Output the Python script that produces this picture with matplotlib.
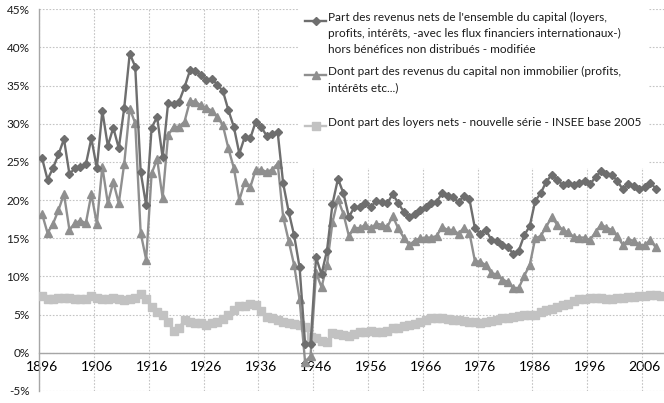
import matplotlib
matplotlib.use('Agg')
import matplotlib.pyplot as plt
from matplotlib.patches import Rectangle
from matplotlib.lines import Line2D

plt.rcParams['font.family'] = ['Lato', 'DejaVu Sans']

# -----------------
# Data
# -----------------

years = list(range(1896, 2010))

capital_total = [
    25.5, 22.7, 24.2, 26.0, 28.0, 23.4, 24.2, 24.4, 24.7, 28.1,
    24.2, 31.7, 27.1, 29.5, 26.8, 32.1, 39.2, 37.5, 23.7, 19.3,
    29.5, 30.9, 25.6, 32.7, 32.6, 32.9, 34.8, 37.0, 36.9, 36.4,
    35.8, 35.9, 35.1, 34.3, 31.8, 29.6, 26.1, 28.3, 28.1, 30.3,
    29.6, 28.4, 28.7, 28.9, 22.2, 18.5, 15.4, 11.2, 1.2, 1.2,
    12.5, 10.3, 13.4, 19.5, 22.8, 20.9, 17.8, 19.1, 19.1, 19.6,
    19.1, 19.9, 19.7, 19.6, 20.8, 19.6, 18.5, 17.8, 18.2, 18.7,
    19.1, 19.6, 19.8, 20.9, 20.5, 20.4, 19.7, 20.6, 20.1, 16.3,
    15.6, 16.1, 14.8, 14.7, 14.1, 13.9, 12.9, 13.4, 15.4, 16.6,
    19.9, 20.9, 22.4, 23.3, 22.7, 22.0, 22.2, 22.0, 22.3, 22.5,
    22.1, 23.0, 23.8, 23.4, 23.3, 22.5, 21.4, 22.1, 21.8, 21.4,
    21.7, 22.3, 21.5,
]

capital_non_immo = [
    18.2, 15.7, 16.9, 18.7, 20.8, 16.1, 17.0, 17.3, 17.0, 20.8,
    16.9, 24.4, 19.6, 22.4, 19.6, 24.8, 32.0, 30.1, 15.7, 12.2,
    23.5, 25.4, 20.3, 28.5, 29.6, 29.6, 30.3, 33.0, 32.9, 32.4,
    32.1, 31.7, 30.9, 29.8, 26.8, 24.2, 20.0, 22.4, 21.7, 24.0,
    24.0, 23.7, 24.0, 24.8, 17.8, 14.7, 11.5, 7.0, -1.2, -0.4,
    10.5, 8.6, 11.5, 17.1, 20.1, 18.2, 15.3, 16.4, 16.3, 16.8,
    16.3, 16.9, 16.8, 16.5, 17.9, 16.3, 15.1, 14.1, 14.7, 15.0,
    15.1, 15.1, 15.3, 16.5, 16.1, 16.1, 15.6, 16.4, 15.7, 12.0,
    11.9, 11.5, 10.4, 10.3, 9.6, 9.3, 8.5, 8.5, 10.1, 11.5,
    15.0, 15.3, 16.5, 17.8, 16.8, 16.1, 15.8, 15.2, 15.1, 15.1,
    14.8, 15.8, 16.8, 16.4, 16.1, 15.3, 14.1, 14.8, 14.7, 14.1,
    14.1, 14.8, 13.8,
]

loyers_nets = [
    7.4, 7.0, 7.1, 7.2, 7.2, 7.2, 7.1, 7.0, 7.1, 7.4,
    7.2, 7.0, 7.1, 7.2, 7.0, 6.9, 7.1, 7.2, 7.7, 7.0,
    6.0, 5.4, 4.9, 4.1, 2.8, 3.3, 4.3, 4.0, 3.9, 3.9,
    3.7, 3.9, 4.0, 4.4, 5.0, 5.6, 6.1, 6.1, 6.4, 6.2,
    5.5, 4.7, 4.5, 4.3, 4.0, 3.9, 3.8, 3.6, 3.4, 2.1,
    1.9, 1.6, 1.4, 2.6, 2.5, 2.3, 2.2, 2.5, 2.7, 2.7,
    2.9, 2.7, 2.7, 2.9, 3.2, 3.3, 3.5, 3.6, 3.8, 4.0,
    4.3, 4.5, 4.6, 4.6, 4.4, 4.3, 4.3, 4.2, 4.1, 4.0,
    3.9, 4.0, 4.2, 4.3, 4.5, 4.6, 4.7, 4.8, 4.9, 5.0,
    4.9, 5.3, 5.6, 5.8, 6.0, 6.2, 6.4, 6.8, 7.0, 7.1,
    7.2, 7.2, 7.2, 7.0, 7.1, 7.2, 7.2, 7.3, 7.3, 7.4,
    7.4, 7.6, 7.6, 7.4,
]

label_years = [1896, 1906, 1916, 1926, 1936, 1946, 1956, 1966, 1976, 1986, 1996, 2006]
y_ticks = [-5, 0, 5, 10, 15, 20, 25, 30, 35, 40, 45]

legend_labels = [
    "Part des revenus nets de l'ensemble du capital (loyers,\n"
    "profits, intérêts, -avec les flux financiers internationaux-)\n"
    "hors bénéfices non distribués - modifiée",
    "Dont part des revenus du capital non immobilier (profits,\n"
    "intérêts etc...)",
    "Dont part des loyers nets - nouvelle série - INSEE base 2005",
]

c_total = '#6e6e6e'
c_immo = '#8f8f8f'
c_loyer = '#c2c2c2'

# -----------------
# Plot
# -----------------

fig = plt.figure(figsize=(6.64, 4.03), dpi=100)
ax = fig.add_axes([0.0592, 0.0298, 0.9408, 0.9471])

ax.plot(years, loyers_nets, color=c_loyer, lw=1.7, marker='s', ms=5.4,
        mec=c_loyer, mfc=c_loyer, zorder=3)
ax.plot(years[:len(capital_non_immo)], capital_non_immo, color=c_immo, lw=1.7,
        marker='^', ms=5.2, mec=c_immo, mfc=c_immo, zorder=4)
ax.plot(years[:len(capital_total)], capital_total, color=c_total, lw=1.7,
        marker='D', ms=4.0, mec=c_total, mfc=c_total, zorder=5)

ax.set_xlim(1895.5, 2009.5)
ax.set_ylim(-5, 45)

ax.set_xticks(label_years)
ax.set_xticks([y - 0.5 for y in label_years], minor=True)
ax.set_xticklabels([str(y) for y in label_years], fontsize=10.5, color='#1a1a1a')
ax.set_yticks(y_ticks)
ax.set_yticklabels([f'{v}%' for v in y_ticks], fontsize=8.5, color='#1a1a1a')
ax.tick_params(axis='x', which='both', length=0, pad=6)
ax.tick_params(axis='y', length=0, pad=7)

ax.grid(axis='x', which='minor', color='#c4c4c4', lw=0.8, ls=(0, (1.5, 1.5)))
ax.grid(axis='y', which='major', color='#c4c4c4', lw=0.8, ls=(0, (1.5, 1.5)))
ax.set_axisbelow(True)

for s in ['top', 'right']:
    ax.spines[s].set_visible(False)
ax.spines['bottom'].set_position(('data', 0))
ax.spines['bottom'].set_color('#a6a6a6')
ax.spines['left'].set_color('#a6a6a6')
ax.spines['bottom'].set_linewidth(1.0)
ax.spines['left'].set_linewidth(1.0)

# legend drawn by hand so the key sits on the first text line
ax.add_patch(Rectangle((0.4156, 0.584), 0.559, 0.45, transform=ax.transAxes,
                       facecolor='white', edgecolor='none', zorder=2.5, clip_on=False))
legend_y = [0.970, 0.827, 0.693]
styles = [(c_total, 'D', 4.0), (c_immo, '^', 5.2), (c_loyer, 's', 5.4)]
for ly, lab, (c, m, ms) in zip(legend_y, legend_labels, styles):
    ax.add_line(Line2D([0.4254, 0.459], [ly, ly], transform=ax.transAxes, color=c,
                       lw=1.7, zorder=6, clip_on=False))
    ax.add_line(Line2D([0.4422], [ly], transform=ax.transAxes, color=c, marker=m,
                       ms=ms, mec=c, mfc=c, zorder=6, clip_on=False))
    ax.text(0.4622, ly + 0.024, lab, transform=ax.transAxes, fontsize=8.5,
            color='#1a1a1a', va='top', ha='left', linespacing=1.58, zorder=6)

fig.savefig('out.png', dpi=100)
